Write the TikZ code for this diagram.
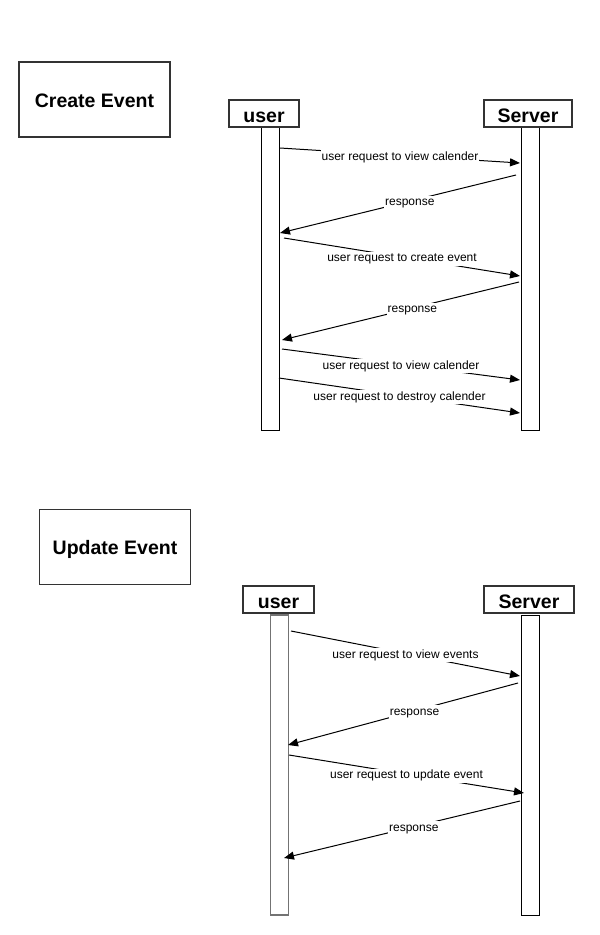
\documentclass[tikz,border=0pt]{standalone}
\usepackage{fontspec}
\setmainfont{Liberation Sans}
\usetikzlibrary{arrows.meta}
\begin{document}
\begin{tikzpicture}[x=1pt,y=-1pt,
  titlebox/.style={draw=black!80,line width=1.8pt,minimum width=151pt,minimum height=75pt,
    inner sep=0pt,text height=15pt,text depth=0pt,font=\bfseries\fontsize{19.5}{22}\selectfont},
  headbox/.style={draw=black!80,line width=2pt,fill=white,minimum height=27pt,
    inner sep=0pt,text height=18pt,text depth=0pt,font=\bfseries\fontsize{19.5}{22}\selectfont},
  lifebar/.style={draw=black,line width=1pt,fill=white,minimum width=18pt,inner sep=0pt},
  msg/.style={draw=black,line width=1pt,-{Triangle[length=10pt,width=8pt]}},
  lbl/.style={fill=white,inner sep=1pt,text height=9pt,text depth=3pt,yshift=-1.5pt,
    font=\fontsize{12}{14}\selectfont}]
\useasboundingbox (0,0) rectangle (600,935);

% ---------- Create Event ----------
\node[titlebox] (t1) at (94.5,99.5) {Create Event};
\node[lifebar,minimum height=304pt] (u1bar) at (270,278) {};
\node[lifebar,minimum height=304pt] (s1bar) at (530,278) {};
\node[headbox,minimum width=70pt] (u1) at (264,113) {user};
\node[headbox,minimum width=88pt] (s1) at (528,113) {Server};

\coordinate (a1s) at (280,148); \coordinate (a1e) at (520,163);
\coordinate (a2s) at (516,175); \coordinate (a2e) at (280,233);
\coordinate (a3s) at (284,238); \coordinate (a3e) at (520,276);
\coordinate (a4s) at (519,282); \coordinate (a4e) at (282,340);
\coordinate (a5s) at (282,349); \coordinate (a5e) at (520,380);
\coordinate (a6s) at (279,378); \coordinate (a6e) at (520,413);

\draw[msg] (a1s) -- node[lbl,pos=0.5] {user request to view calender} (a1e);
\draw[msg] (a2s) -- node[lbl,pos=0.45] {response} (a2e);
\draw[msg] (a3s) -- node[lbl,pos=0.5] {user request to create event} (a3e);
\draw[msg] (a4s) -- node[lbl,pos=0.45] {response} (a4e);
\draw[msg] (a5s) -- node[lbl,pos=0.5] {user request to view calender} (a5e);
\draw[msg] (a6s) -- node[lbl,pos=0.5] {user request to destroy calender} (a6e);

% ---------- Update Event ----------
\node[titlebox] (t2) at (115,547) {Update Event};
\node[lifebar,draw=black!55,line width=1.2pt,minimum height=300pt] (u2bar) at (279.5,765) {};
\node[lifebar,minimum height=300pt] (s2bar) at (530,765) {};
\node[headbox,minimum width=71pt] (u2) at (278.5,599.5) {user};
\node[headbox,minimum width=90pt] (s2) at (529,599.5) {Server};

\coordinate (b1s) at (291,631); \coordinate (b1e) at (520,676);
\coordinate (b2s) at (518,683); \coordinate (b2e) at (288,745);
\coordinate (b3s) at (289,755); \coordinate (b3e) at (524,793);
\coordinate (b4s) at (520,801); \coordinate (b4e) at (284,858);

\draw[msg] (b1s) -- node[lbl,pos=0.5] {user request to view events} (b1e);
\draw[msg] (b2s) -- node[lbl,pos=0.45] {response} (b2e);
\draw[msg] (b3s) -- node[lbl,pos=0.5] {user request to update event} (b3e);
\draw[msg] (b4s) -- node[lbl,pos=0.45] {response} (b4e);
\end{tikzpicture}
\end{document}
